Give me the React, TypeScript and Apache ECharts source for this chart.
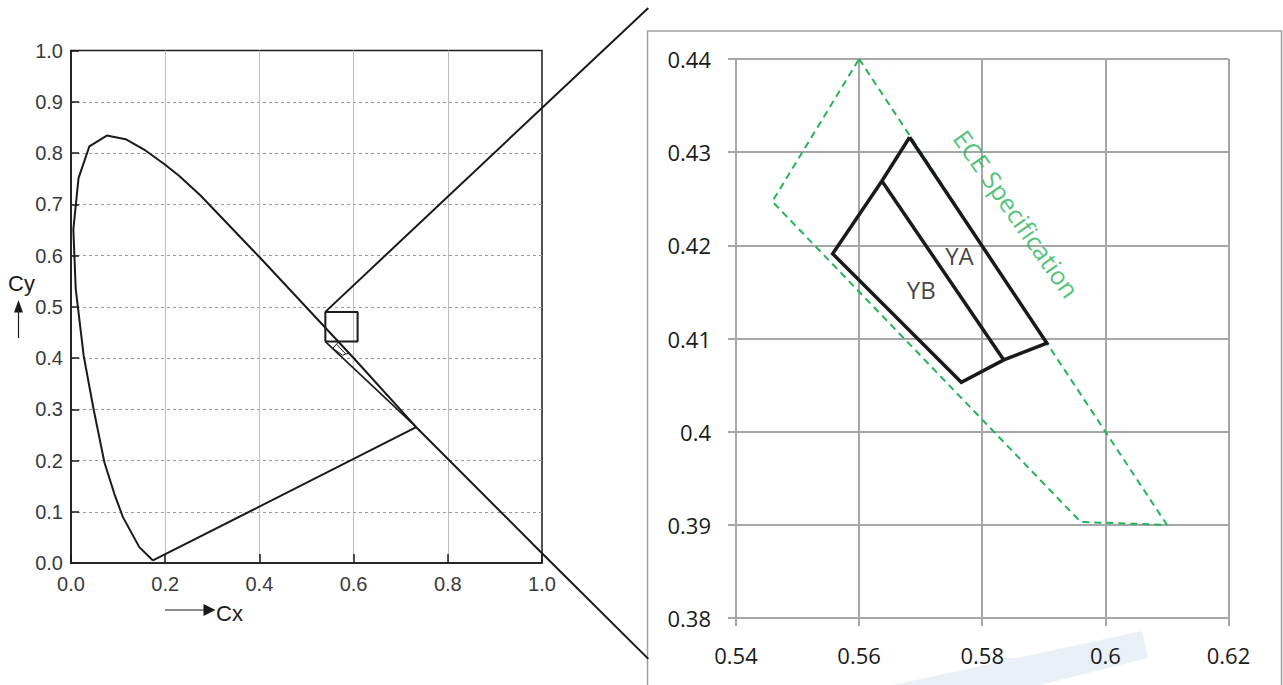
import React, { useEffect, useRef } from "react";
import * as echarts from "echarts";

// ---------- data ----------
// CIE spectral locus (Cx, Cy), blue end -> red end, then purple line back
const LOCUS: [number, number][] = [
  [0.174, 0.005], [0.145, 0.031], [0.11, 0.09], [0.092, 0.135], [0.071, 0.196],
  [0.048, 0.3], [0.027, 0.404], [0.01, 0.535], [0.005, 0.651], [0.016, 0.751],
  [0.039, 0.813], [0.076, 0.834], [0.116, 0.827], [0.158, 0.805], [0.2, 0.777],
  [0.23, 0.755], [0.275, 0.717], [0.4, 0.597], [0.6, 0.4], [0.733, 0.265],
  [0.174, 0.005],
];
// zoom box drawn on the overview diagram
const ZOOM_BOX: [number, number][] = [
  [0.54, 0.432], [0.6085, 0.432], [0.6085, 0.49], [0.54, 0.49], [0.54, 0.432],
];
// connecting lines toward the enlarged panel (overview coordinates)
const CONNECT_TOP: [number, number][] = [[0.54, 0.49], [1.2257, 1.083]];
const CONNECT_LOW: [number, number][] = [[0.54, 0.432], [0.733, 0.265]];
const CONNECT_EXT: [number, number][] = [[0.733, 0.265], [1.0, 0.019], [1.2257, -0.187]];

// YA + YB outline and the YA/YB divider
const YAYB_OUTLINE: [number, number][] = [
  [0.5682, 0.4316], [0.5905, 0.4095], [0.5835, 0.4077], [0.5766, 0.4053],
  [0.5557, 0.4191], [0.5637, 0.4269], [0.5682, 0.4316],
];
const YAYB_DIVIDER: [number, number][] = [[0.5637, 0.4269], [0.5835, 0.4077]];
// ECE specification region
const ECE_SPEC: [number, number][] = [
  [0.56, 0.44], [0.61, 0.39], [0.596, 0.3903], [0.5459, 0.4247], [0.56, 0.44],
];
const REGION_LABELS: [number, number, string][] = [
  [0.5763, 0.4189, "YA"],
  [0.5701, 0.4153, "YB"],
];
const ECE_LABEL: [number, number, string][] = [[0.5856, 0.4234, "ECE Specification"]];

// axes
const LEFT_X_RANGE = [0, 1];
const LEFT_Y_RANGE = [0, 1];
const RIGHT_X_RANGE = [0.54, 0.62];
const RIGHT_Y_RANGE = [0.38, 0.44];

const NARROW = '"Liberation Sans Narrow", "Liberation Sans", Arial, sans-serif';
const EXCEL = '"Open Sans", "Noto Sans", sans-serif';
const INK = "#1a1a1a";
const GREEN = "#22b455";
const RGRID = "#a6a6a6";

export default function App() {
  const ref = useRef<HTMLDivElement>(null);

  useEffect(() => {
    if (!ref.current) return;
    const chart = echarts.init(ref.current, undefined, { renderer: "svg" });

    const leftLine = (data: [number, number][], width = 2) => ({
      type: "line",
      xAxisIndex: 0,
      yAxisIndex: 0,
      data,
      symbol: "none",
      silent: true,
      z: 5,
      lineStyle: { color: INK, width },
    });

    const option: any = {
      animation: false,
      backgroundColor: "#ffffff",
      grid: [
        {
          left: 71, top: 50.5, width: 471, height: 512.5,
          show: true, borderColor: INK, borderWidth: 1.5, backgroundColor: "transparent",
        },
        { left: 736, top: 59, width: 492.5, height: 559 },
      ],
      xAxis: [
        {
          type: "value", gridIndex: 0, min: LEFT_X_RANGE[0], max: LEFT_X_RANGE[1], interval: 0.2,
          axisLine: { show: true, onZero: false, lineStyle: { color: INK, width: 1.5 } },
          axisTick: { show: true, inside: true, length: 9, lineStyle: { color: INK, width: 1.5 } },
          axisLabel: {
            margin: 11, fontSize: 20, color: "#3a3a3a", fontFamily: NARROW,
            formatter: (v: number) => v.toFixed(1),
          },
          splitLine: {
            show: true, showMinLine: false, showMaxLine: false,
            lineStyle: { color: "#bdbdbd", width: 1 },
          },
        },
        {
          type: "value", gridIndex: 1, min: RIGHT_X_RANGE[0], max: RIGHT_X_RANGE[1], interval: 0.02,
          axisLine: { show: true, onZero: false, lineStyle: { color: RGRID, width: 2 } },
          axisTick: { show: true, inside: false, length: 8, lineStyle: { color: RGRID, width: 2 } },
          axisLabel: {
            margin: 26, fontSize: 22, color: "#1a1a1a", fontFamily: EXCEL,
            formatter: (v: number) => String(parseFloat(v.toFixed(2))),
          },
          splitLine: { show: true, lineStyle: { color: RGRID, width: 2 } },
        },
      ],
      yAxis: [
        {
          type: "value", gridIndex: 0, min: LEFT_Y_RANGE[0], max: LEFT_Y_RANGE[1], interval: 0.1,
          axisLine: { show: true, onZero: false, lineStyle: { color: INK, width: 1.5 } },
          axisTick: { show: true, inside: true, length: 8, lineStyle: { color: INK, width: 1.5 } },
          axisLabel: {
            margin: 8, fontSize: 20, color: "#3a3a3a", fontFamily: NARROW,
            formatter: (v: number) => v.toFixed(1),
          },
          splitLine: {
            show: true, showMinLine: false, showMaxLine: false,
            lineStyle: { color: "#9a9a9a", width: 1, type: [3, 3] },
          },
        },
        {
          type: "value", gridIndex: 1, min: RIGHT_Y_RANGE[0], max: RIGHT_Y_RANGE[1], interval: 0.01,
          axisLine: { show: true, onZero: false, lineStyle: { color: RGRID, width: 2 } },
          axisTick: { show: true, inside: false, length: 8, lineStyle: { color: RGRID, width: 2 } },
          axisLabel: {
            margin: 25, fontSize: 22, color: "#1a1a1a", fontFamily: EXCEL,
            formatter: (v: number) => String(parseFloat(v.toFixed(2))),
          },
          splitLine: { show: true, lineStyle: { color: RGRID, width: 2 } },
        },
      ],
      series: [
        leftLine(LOCUS, 2),
        leftLine(ZOOM_BOX, 2),
        leftLine(CONNECT_LOW, 1.6),
        leftLine(YAYB_OUTLINE, 1),
        leftLine(YAYB_DIVIDER, 1),
        {
          type: "line", xAxisIndex: 1, yAxisIndex: 1, data: ECE_SPEC, symbol: "none", silent: true,
          z: 4, lineStyle: { color: GREEN, width: 2, type: [7, 5] },
        },
        {
          type: "line", xAxisIndex: 1, yAxisIndex: 1, data: YAYB_OUTLINE, symbol: "none", silent: true,
          z: 5, lineStyle: { color: INK, width: 3.5, join: "miter" },
        },
        {
          type: "line", xAxisIndex: 1, yAxisIndex: 1, data: YAYB_DIVIDER, symbol: "none", silent: true,
          z: 5, lineStyle: { color: INK, width: 3.5 },
        },
        {
          type: "scatter", xAxisIndex: 1, yAxisIndex: 1, data: REGION_LABELS, symbolSize: 0, silent: true,
          z: 6,
          label: {
            show: true, position: "inside", formatter: (p: any) => p.data[2],
            fontSize: 24, color: "#111", fontFamily: EXCEL,
          },
        },
        {
          type: "scatter", xAxisIndex: 1, yAxisIndex: 1, data: ECE_LABEL, symbolSize: 0, silent: true,
          z: 6,
          label: {
            show: true, position: "inside", rotate: -55, formatter: (p: any) => p.data[2],
            fontSize: 25, color: GREEN, fontFamily: EXCEL,
          },
        },
      ],
    };

    chart.setOption(option);

    // connecting lines that leave the overview plot: mapped through the overview grid's scales
    const toPx = (pts: [number, number][]) =>
      pts.map((p) => chart.convertToPixel({ gridIndex: 0 }, p) as number[]);

    chart.setOption({
      graphic: [
        // faint watermark under the enlarged panel
        {
          type: "polygon", z: -10, silent: true,
          shape: { points: [[893, 685], [1142, 631], [1148, 658], [1040, 685]] },
          style: { fill: "#e9f0f8" },
        },
        {
          type: "rect", z: -10, silent: true,
          shape: { x: 994, y: 658, width: 42, height: 27 },
          style: { fill: "#e9f0f8" },
        },
        // frame of the enlarged panel
        {
          type: "rect", silent: true,
          shape: { x: 647.5, y: 31, width: 634, height: 700 },
          style: { fill: "none", stroke: "#a0a0a0", lineWidth: 1.5 },
        },
        {
          type: "polyline", silent: true, z: 10,
          shape: { points: toPx(CONNECT_TOP) },
          style: { stroke: INK, lineWidth: 2, fill: "none" },
        },
        {
          type: "polyline", silent: true, z: 10,
          shape: { points: toPx(CONNECT_EXT) },
          style: { stroke: INK, lineWidth: 2, fill: "none" },
        },
        // Cy label with arrow
        {
          type: "text", silent: true, x: 8, y: 283,
          style: { text: "Cy", fontSize: 22, fontFamily: NARROW, fill: INK, verticalAlign: "middle", align: "left" },
        },
        {
          type: "line", silent: true,
          shape: { x1: 18.5, y1: 310, x2: 18.5, y2: 338 },
          style: { stroke: INK, lineWidth: 1.2 },
        },
        {
          type: "polygon", silent: true,
          shape: { points: [[18.5, 300], [14, 312.5], [23, 312.5]] },
          style: { fill: INK },
        },
        // Cx label with arrow
        {
          type: "text", silent: true, x: 216, y: 613,
          style: { text: "Cx", fontSize: 22, fontFamily: NARROW, fill: INK, verticalAlign: "middle", align: "left" },
        },
        {
          type: "line", silent: true,
          shape: { x1: 165, y1: 610, x2: 205, y2: 610 },
          style: { stroke: INK, lineWidth: 1.2 },
        },
        {
          type: "polygon", silent: true,
          shape: { points: [[215.5, 610], [203.5, 604], [203.5, 616]] },
          style: { fill: INK },
        },
      ],
    });

    return () => chart.dispose();
  }, []);

  return (
    <div
      ref={ref}
      style={{ position: "absolute", left: 0, top: 0, width: 1283, height: 685, background: "#fff" }}
    />
  );
}
